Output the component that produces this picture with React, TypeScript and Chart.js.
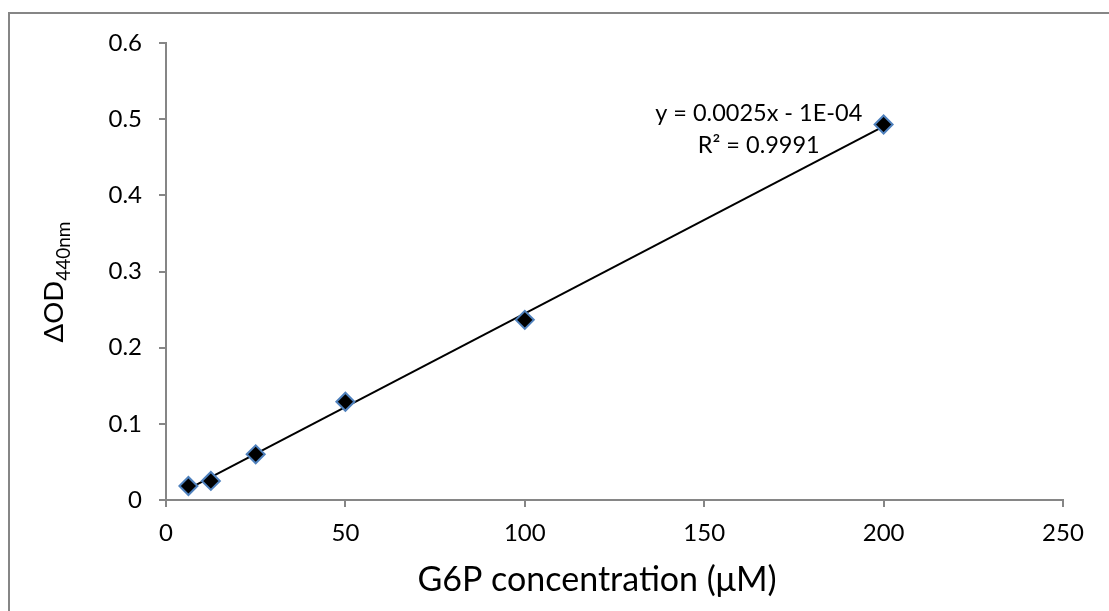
import React, { useEffect, useRef } from "react";
import { Chart, registerables } from "chart.js";

Chart.register(...registerables);

const concentrations = [6.25, 12.5, 25, 50, 100, 200];
const deltaOD = [0.0184, 0.025, 0.06, 0.129, 0.2365, 0.493];
const xTicks = [0, 50, 100, 150, 200, 250];
const yTicks = [0, 0.1, 0.2, 0.3, 0.4, 0.5, 0.6];
const equationLines = ["y = 0.0025x - 1E-04", "R² = 0.9991"];
const xTitle = "G6P concentration (μM)";
const yTitleMain = "ΔOD";
const yTitleSub = "440nm";

const FONT = "Lato, 'Open Sans', sans-serif";
const AXIS_GRAY = "#868686";

function fitLine(xs: number[], ys: number[]) {
  const n = xs.length;
  const mx = xs.reduce((a, b) => a + b, 0) / n;
  const my = ys.reduce((a, b) => a + b, 0) / n;
  let sxx = 0;
  let sxy = 0;
  for (let i = 0; i < n; i++) {
    sxx += (xs[i] - mx) ** 2;
    sxy += (xs[i] - mx) * (ys[i] - my);
  }
  const slope = sxy / sxx;
  return { slope, intercept: my - slope * mx };
}

export default function App() {
  const ref = useRef<HTMLCanvasElement | null>(null);

  useEffect(() => {
    if (!ref.current) return;
    const fit = fitLine(concentrations, deltaOD);
    const xMin = concentrations[0];
    const xMax = concentrations[concentrations.length - 1];
    const trend = [
      { x: xMin, y: fit.slope * xMin + fit.intercept },
      { x: xMax, y: fit.slope * xMax + fit.intercept },
    ];

    const decor = {
      id: "decor",
      beforeDraw(chart: any) {
        const ctx = chart.ctx;
        ctx.save();
        ctx.strokeStyle = AXIS_GRAY;
        ctx.lineWidth = 2;
        ctx.beginPath();
        ctx.moveTo(9, chart.height + 5);
        ctx.lineTo(9, 13);
        ctx.lineTo(chart.width + 5, 13);
        ctx.stroke();
        ctx.restore();
      },
      afterDraw(chart: any) {
        const ctx = chart.ctx;
        const xs = chart.scales.x;
        const ys = chart.scales.y;
        ctx.save();
        ctx.fillStyle = "#000";
        // x title
        ctx.font = `34px ${FONT}`;
        ctx.textAlign = "center";
        ctx.textBaseline = "alphabetic";
        ctx.fillText(xTitle, 597, 591);
        // equation label
        ctx.font = `23.5px ${FONT}`;
        const ex = xs.getPixelForValue(165.2);
        ctx.fillText(equationLines[0], ex, ys.getPixelForValue(0.497));
        ctx.fillText(equationLines[1], ex, ys.getPixelForValue(0.456));
        // y title with subscript
        ctx.translate(63, 282);
        ctx.rotate(-Math.PI / 2);
        ctx.textAlign = "left";
        ctx.font = `27.5px ${FONT}`;
        const w1 = ctx.measureText(yTitleMain).width;
        ctx.font = `19px ${FONT}`;
        const w2 = ctx.measureText(yTitleSub).width;
        const start = -(w1 + w2) / 2;
        ctx.font = `27.5px ${FONT}`;
        ctx.fillText(yTitleMain, start, 0);
        ctx.font = `19px ${FONT}`;
        ctx.fillText(yTitleSub, start + w1, 7);
        ctx.restore();
      },
    };

    const chart = new Chart(ref.current, {
      type: "scatter",
      data: {
        datasets: [
          {
            type: "scatter",
            data: concentrations.map((x, i) => ({ x, y: deltaOD[i] })),
            pointStyle: "rectRot",
            pointRadius: 9,
            pointHoverRadius: 9,
            pointBackgroundColor: "#000000",
            pointBorderColor: "#4f81bd",
            pointBorderWidth: 2,
            order: 0,
          },
          {
            type: "line",
            data: trend,
            borderColor: "#000000",
            borderWidth: 2,
            pointRadius: 0,
            fill: false,
            order: 1,
          } as any,
        ],
      },
      options: {
        responsive: false,
        animation: false,
        events: [],
        layout: { padding: { top: 43, right: 46, left: 0, bottom: 0 } },
        plugins: {
          legend: { display: false },
          tooltip: { enabled: false },
          title: { display: false },
        },
        scales: {
          x: {
            type: "linear",
            min: xTicks[0],
            max: xTicks[xTicks.length - 1],
            afterBuildTicks: (s: any) => {
              s.ticks = xTicks.map((v) => ({ value: v }));
            },
            afterFit: (s: any) => {
              s.height = 111;
            },
            ticks: {
              color: "#000",
              font: { family: FONT, size: 24 },
              padding: 12,
            },
            grid: {
              drawOnChartArea: false,
              drawTicks: true,
              tickLength: 7,
              color: AXIS_GRAY,
              lineWidth: 2,
            },
            border: { color: AXIS_GRAY, width: 2 },
          },
          y: {
            type: "linear",
            min: yTicks[0],
            max: yTicks[yTicks.length - 1],
            afterBuildTicks: (s: any) => {
              s.ticks = yTicks.map((v) => ({ value: v }));
            },
            afterFit: (s: any) => {
              s.width = 166;
            },
            ticks: {
              color: "#000",
              font: { family: FONT, size: 24 },
              padding: 17,
              callback: (v: any) => (Number(v) === 0 ? "0" : Number(v).toFixed(1)),
            },
            grid: {
              drawOnChartArea: false,
              drawTicks: true,
              tickLength: 7,
              color: AXIS_GRAY,
              lineWidth: 2,
            },
            border: { color: AXIS_GRAY, width: 2 },
          },
        },
      },
      plugins: [decor],
    });
    return () => chart.destroy();
  }, []);

  return (
    <div style={{ position: "fixed", left: 0, top: 0, width: 1109, height: 611, background: "#fff" }}>
      <canvas ref={ref} width={1109} height={611} style={{ display: "block" }} />
    </div>
  );
}
